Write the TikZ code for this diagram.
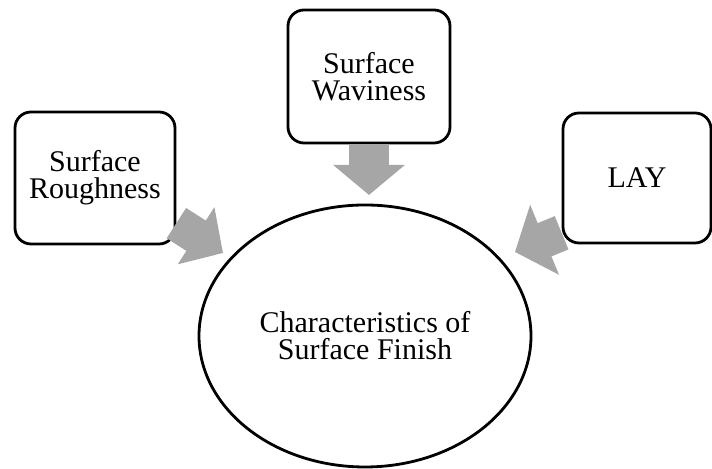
\documentclass[tikz,border=0pt]{standalone}
\usepackage{fontspec}
\setmainfont{Liberation Serif}
\usetikzlibrary{arrows.meta,shapes.geometric}

\definecolor{arrowgray}{HTML}{A6A6A6}
\tikzset{
	box/.style={draw, line width=1.4pt, rounded corners=8pt, fill=white, align=center, inner sep=0pt},
	feed/.style={draw=arrowgray, line width=18pt, -{Triangle[length=16pt, width=33pt]}},
}

\begin{document}
\begin{tikzpicture}[x=0.5pt, y=0.5pt, font=\fontsize{15}{13.5}\selectfont]
	\useasboundingbox (0,0) rectangle (712,469);
	% the three boxes and the ellipse
	\node[box, minimum width=80pt, minimum height=66pt] (rough) at (95,291) {Surface\\Roughness};
	\node[box, minimum width=81pt, minimum height=66.5pt] (wavy) at (369,392.5) {Surface\\Waviness};
	\node[box, minimum width=74pt, minimum height=65pt] (lay) at (637,291) {LAY};
	\node[draw, ellipse, line width=1.4pt, minimum width=166pt, minimum height=131pt, align=center] (finish) at (365,133) {Characteristics of\\Surface Finish};
	% arrow tips
	\coordinate (tipR) at (223,216);
	\coordinate (tipW) at (369,274);
	\coordinate (tipL) at (515,217);
	\draw[feed] (rough.-29) -- (tipR);
	\draw[feed, line width=20pt, -{Triangle[length=15pt, width=35pt]}] (wavy.south) -- (tipW);
	\draw[feed, -{Triangle[length=16pt, width=37pt]}] (lay.216) -- (tipL);
\end{tikzpicture}
\end{document}
